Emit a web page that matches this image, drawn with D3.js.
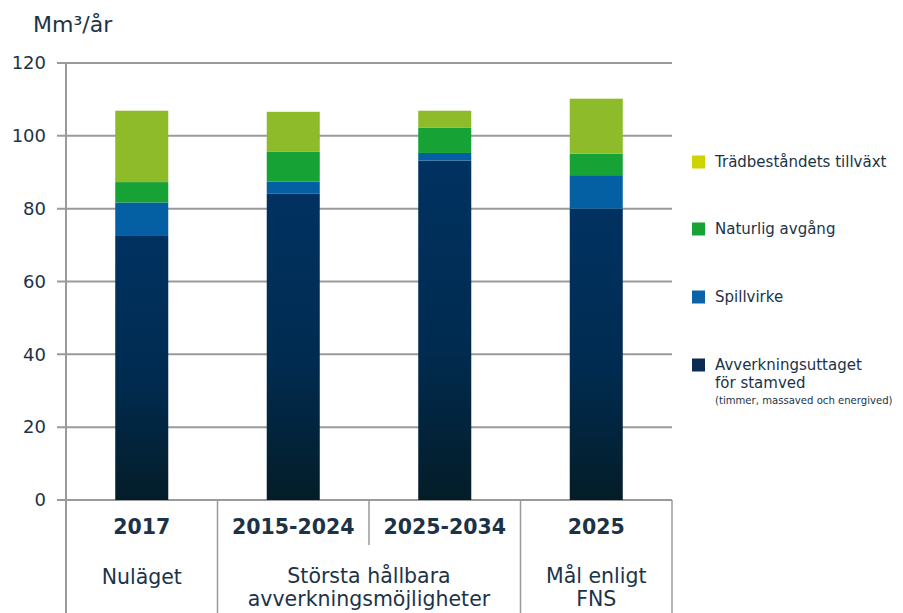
<!DOCTYPE html>
<html><head><meta charset="utf-8">
<script src="https://cdn.jsdelivr.net/npm/d3@7"></script>
<style>
body{margin:0;background:#fff;}
svg text{font-family:"DejaVu Sans",sans-serif;fill:#1c3347;}
</style></head>
<body><svg id="c" width="903" height="613"></svg>
<script>
const categories = ["2017","2015-2024","2025-2034","2025"];
const avverkning = [72.5, 84.2, 93.2, 80.0];
const spillvirke = [9.2, 3.2, 2.1, 9.2];
const naturlig = [5.6, 8.2, 6.9, 5.9];
const tillvaxt = [19.6, 11.0, 4.7, 15.1];
const yTicks = [0, 20, 40, 60, 80, 100, 120];
const groupLabels = [["Nuläget"], ["Största hållbara","avverkningsmöjligheter"], ["Mål enligt","FNS"]];
const groupSpans = [[0,0],[1,2],[3,3]];
const seriesKeys = ["avverkning","spillvirke","naturlig","tillvaxt"];
const seriesColors = ["url(#navyGrad)","#0560a3","#17a235","#8dbb29"];
const legendNames = ["Trädbeståndets tillväxt","Naturlig avgång","Spillvirke","Avverkningsuttaget"];
const legendColors = ["#cdd400","#17a235","#0b64aa","#0b2d52"];

const svg = d3.select("#c");
const defs = svg.append("defs");
const g = defs.append("linearGradient").attr("id","navyGrad").attr("x1",0).attr("x2",0).attr("y1",0).attr("y2",1);
g.append("stop").attr("offset","0%").attr("stop-color","#003261");
g.append("stop").attr("offset","55%").attr("stop-color","#002b50");
g.append("stop").attr("offset","100%").attr("stop-color","#041d28");

const x = d3.scaleBand().domain(categories).range([66,672]).paddingInner(0.65).paddingOuter(0.325);
const y = d3.scaleLinear().domain([0,120]).range([500,63]);

// gridlines
svg.append("g").selectAll("line").data(yTicks).join("line")
  .attr("x1",57).attr("x2",672).attr("y1",d=>y(d)).attr("y2",d=>y(d))
  .attr("stroke","#9a9a9a").attr("stroke-width",2);
svg.append("g").selectAll("text").data(yTicks).join("text")
  .attr("x",46).attr("y",d=>y(d)).attr("dy","0.35em").attr("text-anchor","end")
  .attr("font-size",18).attr("font-weight",400).text(d=>d);

// vertical axis line (extends through table)
svg.append("line").attr("x1",66).attr("x2",66).attr("y1",63).attr("y2",613).attr("stroke","#9a9a9a").attr("stroke-width",2);

// unit
svg.append("text").attr("x",33).attr("y",32).attr("font-size",22).attr("font-weight",400).text("Mm³/år");

// stacked bars
const rows = categories.map((c,i)=>({cat:c, avverkning:avverkning[i], spillvirke:spillvirke[i], naturlig:naturlig[i], tillvaxt:tillvaxt[i]}));
const stack = d3.stack().keys(seriesKeys)(rows);
svg.append("g").selectAll("g").data(stack).join("g")
  .attr("fill",(d,i)=>seriesColors[i])
  .selectAll("rect").data(d=>d).join("rect")
  .attr("x",d=>x(d.data.cat)).attr("width",x.bandwidth())
  .attr("y",d=>y(d[1])).attr("height",d=>y(d[0])-y(d[1]));

// table dividers
const step = x.step();
const dividers = [];
groupSpans.forEach((s,i)=>{ if(i>0) dividers.push({x:66+s[0]*step, full:true}); });
dividers.push({x:66+categories.length*step, full:true});
groupSpans.forEach(s=>{ for(let k=s[0]+1;k<=s[1];k++) dividers.push({x:66+k*step, full:false}); });
svg.append("g").selectAll("line").data(dividers).join("line")
  .attr("x1",d=>d.x).attr("x2",d=>d.x).attr("y1",500).attr("y2",d=>d.full?613:545)
  .attr("stroke","#9a9a9a").attr("stroke-width",1.5);

// year labels
svg.append("g").selectAll("text").data(categories).join("text")
  .attr("x",d=>x(d)+x.bandwidth()/2).attr("y",527).attr("dy","0.35em").attr("text-anchor","middle")
  .attr("font-size",20.5).attr("font-weight",700).attr("fill","#13304d").text(d=>d);

// group labels
groupSpans.forEach((s,i)=>{
  const cx = (x(categories[s[0]]) + x(categories[s[1]]) + x.bandwidth())/2;
  const lines = groupLabels[i];
  lines.forEach((t,j)=>{
    svg.append("text").attr("x",cx).attr("y",(lines.length===1?577:576)+j*23).attr("dy","0.35em")
      .attr("text-anchor","middle").attr("font-size",20.5).attr("font-weight",400).text(t);
  });
});

// legend
const legY = [162,229,297,365];
legendNames.forEach((n,i)=>{
  svg.append("rect").attr("x",692).attr("y",legY[i]-6.5).attr("width",13).attr("height",13).attr("fill",legendColors[i]);
  svg.append("text").attr("x",715).attr("y",legY[i]).attr("dy","0.35em").attr("font-size",15).attr("font-weight",400).text(n);
});
svg.append("text").attr("x",715).attr("y",383).attr("dy","0.35em").attr("font-size",15).attr("font-weight",400).text("för stamved");
svg.append("text").attr("x",715).attr("y",400).attr("dy","0.35em").attr("font-size",10.1).attr("font-weight",400).text("(timmer, massaved och energived)");
</script></body></html>
